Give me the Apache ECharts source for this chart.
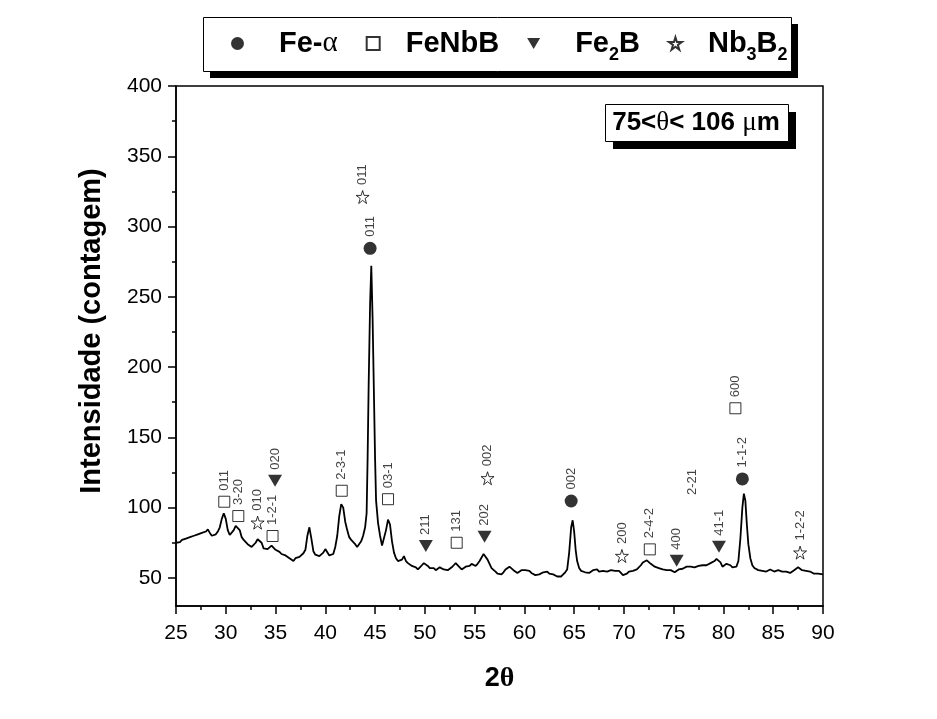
<!DOCTYPE html>
<html>
<head>
<meta charset="utf-8">
<script src="https://cdn.jsdelivr.net/npm/echarts@6/dist/echarts.min.js"></script>
<style>
  html, body { margin: 0; padding: 0; background: #fff; }
  #chart { width: 937px; height: 719px; }
</style>
</head>
<body>
<div id="chart"></div>
<script>
// XRD pattern (2theta, counts)
const twoTheta = [
  25.0, 25.2, 25.4, 25.6, 25.8, 26.0, 26.2, 26.4, 26.6, 26.8,
  27.0, 27.2, 27.4, 27.6, 27.8, 28.0, 28.2, 28.4, 28.6, 28.8,
  29.0, 29.2, 29.4, 29.6, 29.8, 30.0, 30.2, 30.4, 30.6, 30.8,
  31.0, 31.2, 31.4, 31.6, 31.8, 32.0, 32.2, 32.4, 32.6, 32.8,
  33.0, 33.2, 33.4, 33.6, 33.8, 34.0, 34.2, 34.4, 34.6, 34.8,
  35.0, 35.2, 35.4, 35.6, 35.8, 36.0, 36.2, 36.4, 36.6, 36.8,
  37.0, 37.2, 37.4, 37.6, 37.8, 38.0, 38.2, 38.4, 38.6, 38.8,
  39.0, 39.2, 39.4, 39.6, 39.8, 40.0, 40.2, 40.4, 40.6, 40.8,
  41.0, 41.2, 41.4, 41.6, 41.8, 42.0, 42.2, 42.4, 42.6, 42.8,
  43.0, 43.2, 43.4, 43.6, 43.8, 44.0, 44.15, 44.25, 44.35, 44.5,
  44.62, 44.75, 44.9, 45.0, 45.1, 45.3, 45.5, 45.7, 45.9, 46.1,
  46.3, 46.5, 46.7, 46.9, 47.1, 47.3, 47.5, 47.7, 47.9, 48.1,
  48.3, 48.5, 48.7, 48.9, 49.1, 49.3, 49.5, 49.7, 49.9, 50.1,
  50.3, 50.5, 50.7, 50.9, 51.1, 51.3, 51.5, 51.7, 51.9, 52.1,
  52.3, 52.5, 52.7, 52.9, 53.1, 53.3, 53.5, 53.7, 53.9, 54.1,
  54.3, 54.5, 54.7, 54.9, 55.1, 55.3, 55.5, 55.7, 55.9, 56.1,
  56.3, 56.5, 56.7, 56.9, 57.1, 57.3, 57.5, 57.7, 57.9, 58.1,
  58.3, 58.5, 58.7, 58.9, 59.1, 59.3, 59.5, 59.7, 59.9, 60.1,
  60.3, 60.5, 60.7, 60.9, 61.1, 61.3, 61.5, 61.7, 61.9, 62.1,
  62.3, 62.5, 62.7, 62.9, 63.1, 63.3, 63.5, 63.7, 63.9, 64.1,
  64.3, 64.5, 64.7, 64.85, 65.0, 65.15, 65.3, 65.5, 65.7, 65.9,
  66.1, 66.3, 66.5, 66.7, 66.9, 67.1, 67.3, 67.5, 67.7, 67.9,
  68.1, 68.3, 68.5, 68.7, 68.9, 69.1, 69.3, 69.5, 69.7, 69.9,
  70.1, 70.3, 70.5, 70.7, 70.9, 71.1, 71.3, 71.5, 71.7, 71.9,
  72.1, 72.3, 72.5, 72.7, 72.9, 73.1, 73.3, 73.5, 73.7, 73.9,
  74.1, 74.3, 74.5, 74.7, 74.9, 75.1, 75.3, 75.5, 75.7, 75.9,
  76.1, 76.3, 76.5, 76.7, 76.9, 77.1, 77.3, 77.5, 77.7, 77.9,
  78.1, 78.3, 78.5, 78.7, 78.9, 79.1, 79.3, 79.5, 79.7, 79.9,
  80.1, 80.3, 80.5, 80.7, 80.9, 81.1, 81.3, 81.5, 81.7, 81.9,
  82.05, 82.2, 82.35, 82.5, 82.7, 82.9, 83.1, 83.3, 83.5, 83.7,
  83.9, 84.1, 84.3, 84.5, 84.7, 84.9, 85.1, 85.3, 85.5, 85.7,
  85.9, 86.1, 86.3, 86.5, 86.7, 86.9, 87.1, 87.3, 87.5, 87.7,
  87.9, 88.1, 88.3, 88.5, 88.7, 88.9, 89.1, 89.3, 89.5, 89.7,
  90.0
];
const counts = [
  75, 76, 75.5, 77, 76, 78, 77, 79, 78, 80,
  79, 81, 80, 82, 81, 83, 84.5, 82, 80, 79.5,
  81, 83, 86, 92, 96, 92, 84, 80.5, 81, 84,
  87, 87.5, 84, 79, 77, 76, 74, 73, 72, 73,
  75, 77.5, 78, 75, 71, 70, 70.5, 71.5, 73, 72.5,
  70, 69, 68.5, 67, 68, 66, 66.5, 64, 63.5, 62,
  64, 63, 65, 66, 67.5, 70, 80, 86, 78, 69,
  66.5, 66, 65.5, 66, 68, 70.5, 71, 66, 65, 67,
  72, 80, 94, 102.5, 100, 90, 84, 79, 77, 78,
  74, 72, 73, 76, 80, 86, 96, 135, 185, 245,
  272, 235, 175, 135, 105, 89, 80, 73, 74, 84,
  91.5, 88, 76, 68, 64, 62, 61, 63, 65.5, 62,
  60.5, 60, 58.5, 58, 57.5, 56, 57.5, 59, 60.5, 60,
  58.5, 57, 56.5, 57, 55.5, 56.5, 57.5, 58, 56, 55,
  55.5, 56, 57.5, 59, 60.5, 59.5, 57.5, 56, 56.5, 58,
  57, 58.5, 60, 59, 58.5, 60, 62, 64.5, 67, 67.5,
  63, 60, 57, 56, 54.5, 53, 52, 52.5, 54, 56,
  57, 58, 57.5, 55.5, 54.5, 53.5, 54, 55.5, 56, 55.5,
  56.5, 55, 53.5, 52.5, 52, 53, 52.5, 53.5, 54, 55,
  54.5, 53, 52, 52.5, 51.5, 51, 52, 51, 52.5, 54,
  56, 68, 86, 91, 83, 70, 62, 57, 55, 54.5,
  54, 53, 53.5, 54, 55.5, 56.5, 56, 54.5, 54, 55,
  55.5, 54.5, 54, 55.5, 56, 55, 55.5, 55, 53.5, 52,
  51.5, 53, 54.5, 55.5, 55, 55, 56, 57, 59, 61,
  62, 62.5, 61.5, 60, 59.5, 58, 58, 57, 56.5, 56,
  55.5, 55.5, 55, 55.5, 54.5, 54, 55, 56, 55.5, 56.5,
  57, 58, 57.5, 58, 57, 57.5, 58.5, 58.5, 58, 59,
  59.5, 59, 60, 60.5, 61, 62, 63.5, 64, 61, 58,
  58.5, 60, 60.5, 59, 57.5, 57, 58, 62, 78, 100,
  110, 105, 88, 74, 64, 59, 57, 56.5, 55.5, 56,
  55, 54.5, 54.5, 55.5, 56, 55, 54.5, 55, 55.5, 55.5,
  54.5, 54, 54.5, 53.5, 53.5, 54.5, 55.5, 56.5, 57.5, 57,
  55.5, 54.5, 55, 54, 54.5, 53.5, 53, 54, 53, 53.5,
  52.5
];

const yTicks = [50, 100, 150, 200, 250, 300, 350, 400];
const yMinorTicks = [75, 125, 175, 225, 275, 325, 375];

// phase markers (position of the symbol) and their hkl labels
const feAlphaX = [44.5, 64.7, 81.9];
const feAlphaY = [284.5, 104.7, 120.4];
const feAlphaHkl = ['011', '002', '1-1-2'];

const feNbBX = [29.85, 31.26, 34.7, 41.65, 46.3, 53.2, 72.6, 81.2];
const feNbBY = [104.2, 94, 79.8, 112, 106, 75, 70.3, 170.7];
const feNbBHkl = ['011', '3-20', '1-2-1', '2-3-1', '03-1', '131', '2-4-2', '600'];

const fe2BX = [34.95, 50.1, 56.0, 75.3, 79.55];
const fe2BY = [119.2, 72.7, 79.3, 62.2, 72.2];
const fe2BHkl = ['020', '211', '202', '400', '41-1'];

const nb3B2X = [43.75, 33.2, 56.3, 69.8, 87.7];
const nb3B2Y = [321, 89.3, 120.9, 65.6, 68];
const nb3B2Hkl = ['011', '010', '002', '200', '1-2-2'];

// label printed without a symbol
const looseX = [76.85];
const looseY = [109];
const looseHkl = ['2-21'];

const SANS = 'Liberation Sans, Arial, sans-serif';
const SERIF = 'Liberation Serif, Times New Roman, serif';
const STAR = 'path://M50,2 L61,37 L98,37 L68,59 L79,95 L50,73 L21,95 L32,59 L2,37 L39,37 Z';
const SQUARE = 'path://M0,0 L10,0 L10,10 L0,10 Z';
const TRI_DOWN = 'path://M0,0 L14,0 L7,12 Z';

function markers(xs, ys, tags) {
    return xs.map(function (x, i) { return { value: [x, ys[i]], tag: tags[i] }; });
}

const hklLabel = {
    show: true,
    position: 'top',
    distance: 5,
    rotate: 90,
    align: 'left',
    verticalAlign: 'middle',
    fontFamily: SANS,
    fontSize: 13,
    color: '#111',
    formatter: function (p) { return p.data.tag; }
};

const chart = echarts.init(document.getElementById('chart'));

const legendNames = {
    'Fe-α': '{sp1|}{b|Fe-}{g|α}',
    'FeNbB': '{sp2|}{b|FeNbB}',
    'Fe2B': '{sp1|}{b|Fe}{s|2}{b|B}',
    'Nb3B2': '{sp2|}{b|Nb}{s|3}{b|B}{s|2}'
};

chart.setOption({
    animation: false,
    backgroundColor: '#fff',
    grid: {
        left: 176, right: 114, top: 86, bottom: 113,
        show: true, borderColor: '#000', borderWidth: 1.5
    },
    legend: {
        left: 203, top: 17, z: 10,
        orient: 'horizontal',
        padding: [12, 2, 11, 28],
        itemGap: 28,
        itemWidth: 13, itemHeight: 13,
        data: ['Fe-α', 'FeNbB', 'Fe2B', 'Nb3B2'],
        formatter: function (name) { return legendNames[name]; },
        textStyle: {
            color: '#000',
            rich: {
                sp1: { width: 30 },
                sp2: { width: 21 },
                b: { fontFamily: SANS, fontWeight: 'bold', fontSize: 29, lineHeight: 32, color: '#000' },
                g: { fontFamily: SERIF, fontSize: 29, lineHeight: 32, color: '#000' },
                s: { fontFamily: SANS, fontWeight: 'bold', fontSize: 18, height: 9, lineHeight: 6, verticalAlign: 'bottom', color: '#000' }
            }
        }
    },
    xAxis: {
        type: 'value',
        min: 25, max: 90, interval: 5,
        name: '{b|2}{g|θ}',
        nameLocation: 'middle',
        nameGap: 59,
        nameTextStyle: {
            rich: {
                b: { fontFamily: SANS, fontWeight: 'bold', fontSize: 27, color: '#000' },
                g: { fontFamily: SERIF, fontWeight: 'bold', fontSize: 28, color: '#000' }
            }
        },
        axisLine: { show: true, onZero: false, lineStyle: { color: '#000', width: 1.5 } },
        axisTick: { show: true, inside: false, length: 8, lineStyle: { color: '#000', width: 1.5 } },
        minorTick: { show: true, splitNumber: 2, length: 4, lineStyle: { color: '#000', width: 1.5 } },
        axisLabel: { fontFamily: SANS, fontSize: 21, color: '#000', margin: 17 },
        splitLine: { show: false }
    },
    yAxis: [{
        type: 'value',
        min: 30, max: 400,
        name: 'Intensidade (contagem)',
        nameLocation: 'middle',
        nameRotate: 90,
        nameGap: 70,
        nameTextStyle: { fontFamily: SANS, fontWeight: 'bold', fontSize: 29, color: '#000', padding: [0, 0, 0, 30] },
        axisLine: { show: true, onZero: false, lineStyle: { color: '#000', width: 1.5 } },
        axisTick: { show: true, inside: false, length: 8, customValues: yTicks, lineStyle: { color: '#000', width: 1.5 } },
        axisLabel: { customValues: yTicks, fontFamily: SANS, fontSize: 21, color: '#000', margin: 14 },
        splitLine: { show: false }
    }, {
        // minor ticks only
        type: 'value',
        min: 30, max: 400,
        position: 'left',
        axisLine: { show: false },
        axisTick: { show: true, inside: false, length: 4, customValues: yMinorTicks, lineStyle: { color: '#000', width: 1.5 } },
        axisLabel: { show: false },
        splitLine: { show: false }
    }],
    graphic: [
        // legend frame with its drop shadow
        { type: 'rect', z: 1, left: 210, top: 24, shape: { width: 588, height: 54 }, style: { fill: '#000' } },
        { type: 'rect', z: 1, left: 203, top: 17, shape: { width: 588, height: 54 }, style: { fill: '#fff', stroke: '#000', lineWidth: 1 } },
        // sieve fraction box
        { type: 'rect', z: 1, left: 613, top: 112, shape: { width: 183, height: 37 }, style: { fill: '#000' } },
        { type: 'rect', z: 1, left: 605, top: 104, shape: { width: 183, height: 37 }, style: { fill: '#fff', stroke: '#000', lineWidth: 1 } },
        {
            type: 'text', z: 2, x: 696, y: 123,
            style: {
                text: '{b|75<}{g|θ}{b|< 106 }{g|μ}{b|m}',
                align: 'center', verticalAlign: 'middle',
                rich: {
                    b: { fontFamily: SANS, fontWeight: 'bold', fontSize: 26, fill: '#000' },
                    g: { fontFamily: SERIF, fontSize: 27, fill: '#000' }
                }
            }
        }
    ],
    series: [
        {
            name: 'pattern',
            type: 'line',
            data: twoTheta.map(function (x, i) { return [x, counts[i]]; }),
            showSymbol: false,
            symbol: 'none',
            lineStyle: { color: '#000', width: 1.8 },
            z: 2
        },
        {
            name: 'Fe-α', type: 'scatter',
            data: markers(feAlphaX, feAlphaY, feAlphaHkl),
            symbol: 'circle', symbolSize: 13,
            itemStyle: { color: '#000' },
            label: hklLabel, z: 3
        },
        {
            name: 'FeNbB', type: 'scatter',
            data: markers(feNbBX, feNbBY, feNbBHkl),
            symbol: SQUARE, symbolSize: 11,
            itemStyle: { color: '#fff', borderColor: '#000', borderWidth: 1 },
            label: hklLabel, z: 3
        },
        {
            name: 'Fe2B', type: 'scatter',
            data: markers(fe2BX, fe2BY, fe2BHkl),
            symbol: TRI_DOWN, symbolSize: [14, 12],
            itemStyle: { color: '#000' },
            label: hklLabel, z: 3
        },
        {
            name: 'Nb3B2', type: 'scatter',
            data: markers(nb3B2X, nb3B2Y, nb3B2Hkl),
            symbol: STAR, symbolSize: 13,
            itemStyle: { color: '#fff', borderColor: '#000', borderWidth: 1 },
            label: hklLabel, z: 3
        },
        {
            name: 'unmarked', type: 'scatter',
            data: markers(looseX, looseY, looseHkl),
            symbol: 'circle', symbolSize: 0,
            label: Object.assign({}, hklLabel, { distance: 0 }), z: 3
        }
    ]
});
</script>
</body>
</html>
